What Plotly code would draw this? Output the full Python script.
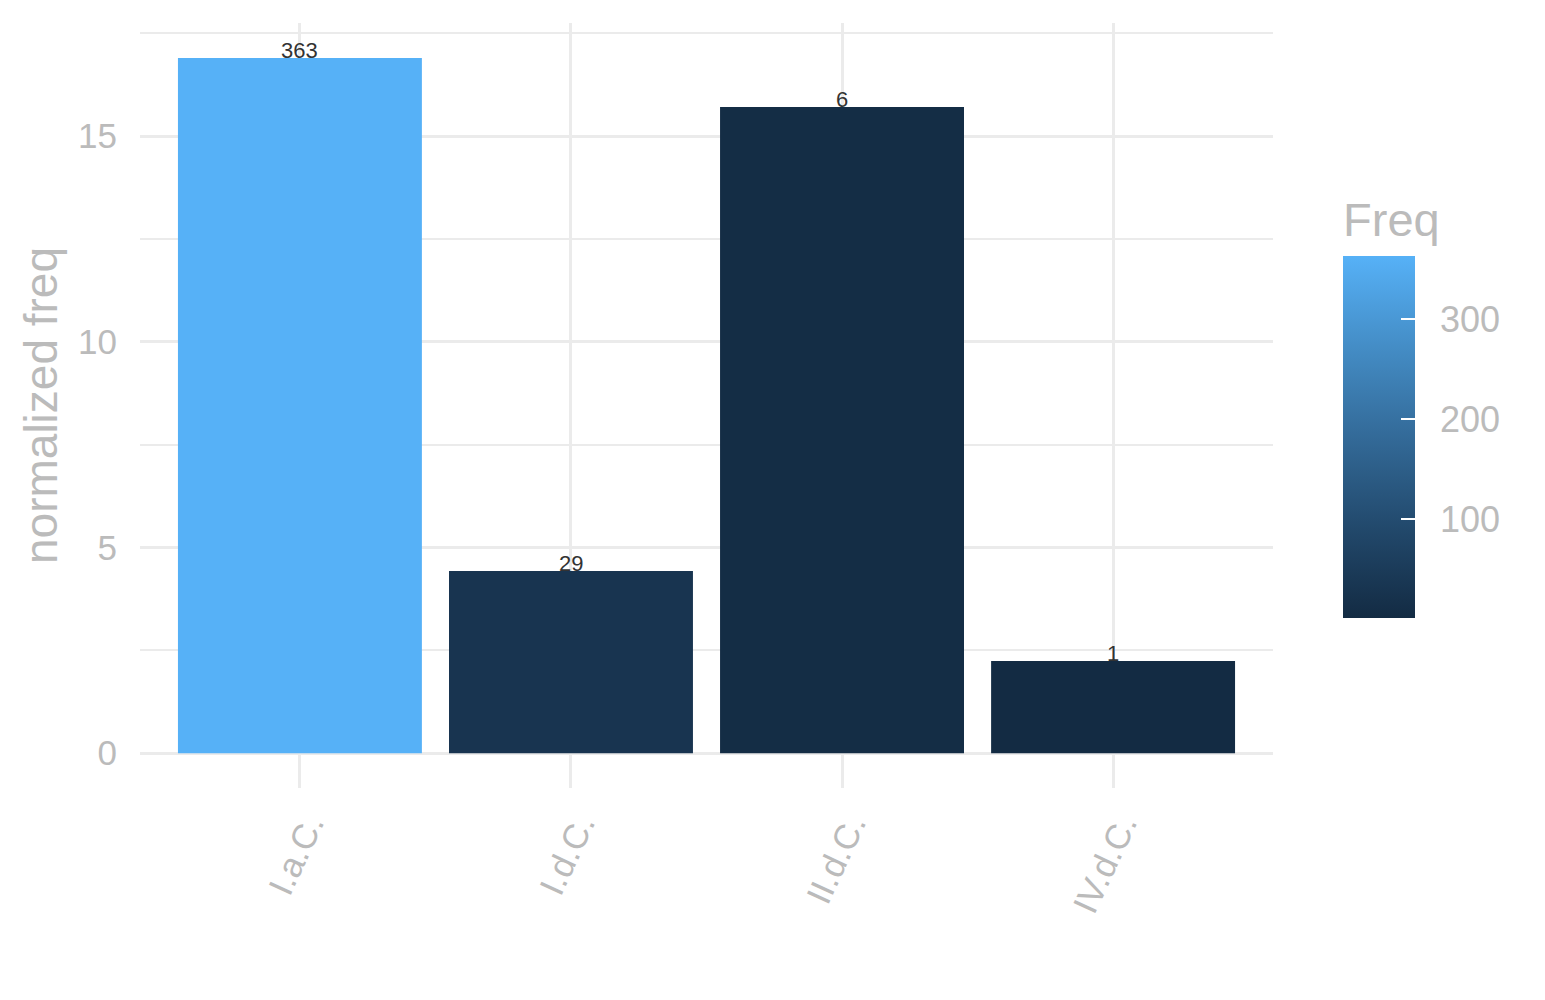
import plotly.graph_objects as go

# data
categories = ["I.a.C.", "I.d.C.", "II.d.C.", "IV.d.C."]
norm_freq = [16.90, 4.43, 15.71, 2.24]
freq = [363, 29, 6, 1]
cbar_ticks = [100, 200, 300]

# ggplot-like default gradient (dark navy -> light blue)
gg_blues = [
    [0.0, "#132B43"],
    [0.25, "#22496C"],
    [0.5, "#336A98"],
    [0.75, "#448DC6"],
    [1.0, "#56B1F7"],
]

FONT = "Liberation Sans, Arial, sans-serif"
GREY = "#BBBBBB"
GRID = "#EBEBEB"
PAD = "\u00a0\u2009"  # push colorbar labels away from the bar

fig = go.Figure()

fig.add_trace(go.Bar(
    x=categories,
    y=norm_freq,
    width=0.9,
    marker=dict(
        color=freq,
        colorscale=gg_blues,
        cmin=min(freq),
        cmax=max(freq),
        line=dict(width=0),
        showscale=True,
        colorbar=dict(
            title=dict(text="Freq", side="top", font=dict(size=47, color=GREY, family=FONT)),
            tickvals=cbar_ticks,
            ticktext=[PAD + str(t) for t in cbar_ticks],
            ticks="inside",
            ticklen=14,
            tickcolor="white",
            tickwidth=1.5,
            tickfont=dict(size=36, color=GREY, family=FONT),
            thickness=72,
            lenmode="pixels",
            len=420,
            x=1.0618,
            xanchor="left",
            y=0.2222,
            yanchor="bottom",
            xpad=0,
            ypad=0,
            outlinewidth=0,
        ),
    ),
    showlegend=False,
))

# count labels on top of bars
for c, v, f in zip(categories, norm_freq, freq):
    fig.add_annotation(
        x=c, y=v, text=str(f), showarrow=False,
        yanchor="bottom", yshift=-6, borderpad=0,
        font=dict(size=22, color="#333333", family=FONT),
    )

fig.update_layout(
    width=1545,
    height=1000,
    margin=dict(l=132, r=280, t=15, b=220),
    plot_bgcolor="white",
    paper_bgcolor="white",
    font=dict(family=FONT, color=GREY),
)

fig.update_xaxes(
    range=[-0.59, 3.59],
    showgrid=True,
    gridcolor=GRID,
    gridwidth=3,
    tickangle=-65,
    tickfont=dict(size=35, color=GREY, family=FONT),
    ticklabelstandoff=8,
    ticklabelshift=9,
    zeroline=False,
    showline=False,
)

fig.update_yaxes(
    range=[-0.845, 17.75],
    tickvals=[0, 5, 10, 15],
    showgrid=True,
    gridcolor=GRID,
    gridwidth=3,
    minor=dict(tickvals=[2.5, 7.5, 12.5, 17.5], showgrid=True, gridcolor=GRID, gridwidth=2),
    tickfont=dict(size=35, color=GREY, family=FONT),
    ticklabelstandoff=22,
    zeroline=False,
    showline=False,
    title=dict(text="normalized freq", font=dict(size=46, color=GREY, family=FONT), standoff=5),
)

fig.write_html("out.html")
